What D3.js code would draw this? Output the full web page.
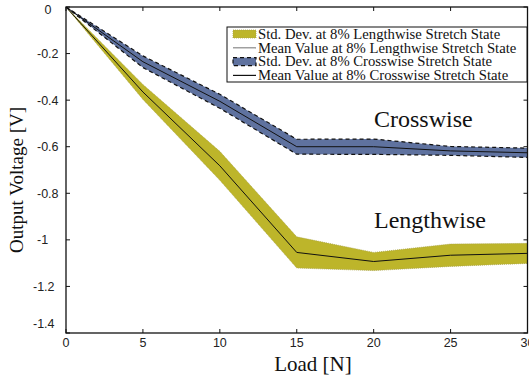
<!DOCTYPE html>
<html>
<head>
<meta charset="utf-8">
<script src="https://cdn.jsdelivr.net/npm/d3@7"></script>
<style>
  html, body { margin: 0; padding: 0; background: #fff; }
  svg { display: block; }
  .tick-label { font-family: "Liberation Sans Narrow", "Liberation Sans", Arial, sans-serif; font-size: 12.5px; fill: #222; }
  .serif { font-family: "Liberation Serif", "Times New Roman", serif; fill: #111; }
</style>
</head>
<body>
<svg id="chart" width="529" height="380"></svg>
<script>
// Load steps [N]
const loads = [0, 5, 10, 15, 20, 25, 30];

// Output voltage [V] at 8% lengthwise stretch
const lengthMean = [0, -0.365, -0.682, -1.054, -1.093, -1.066, -1.058];
const lengthStd  = [0, 0.032, 0.062, 0.067, 0.039, 0.048, 0.043];

// Output voltage [V] at 8% crosswise stretch
const crossMean = [0, -0.235, -0.405, -0.600, -0.600, -0.618, -0.626];
const crossStd  = [0, 0.025, 0.030, 0.032, 0.033, 0.019, 0.020];

const xTicks = [0, 5, 10, 15, 20, 25, 30];
const yTicks = [0, -0.2, -0.4, -0.6, -0.8, -1, -1.2, -1.4];
const yTickLabels = ["0", "-0.2", "-0.4", "-0.6", "-0.8", "-1", "-1.2", "-1.4"];

const legendLabels = [
  "Std. Dev. at 8% Lengthwise Stretch State",
  "Mean Value at 8% Lengthwise Stretch State",
  "Std. Dev. at 8% Crosswise Stretch State",
  "Mean Value at 8% Crosswise Stretch State"
];

const yellow = "#bdb52a";
const blue = "#5f729f";

const svg = d3.select("#chart");
const pLeft = 66, pRight = 527.5, pTop = 7, pBottom = 333;

const x = d3.scaleLinear().domain([0, 30]).range([pLeft, pRight]);
const y = d3.scaleLinear().domain([0, -1.4]).range([pTop, pBottom]);

const rowsL = loads.map((l, i) => ({ l, m: lengthMean[i], s: lengthStd[i] }));
const rowsC = loads.map((l, i) => ({ l, m: crossMean[i], s: crossStd[i] }));

const area = d3.area().x(d => x(d.l)).y0(d => y(d.m - d.s)).y1(d => y(d.m + d.s));
const upper = d3.line().x(d => x(d.l)).y(d => y(d.m + d.s));
const lower = d3.line().x(d => x(d.l)).y(d => y(d.m - d.s));
const mean = d3.line().x(d => x(d.l)).y(d => y(d.m));

svg.append("clipPath").attr("id", "clip")
  .append("rect").attr("x", pLeft).attr("y", pTop).attr("width", pRight - pLeft).attr("height", pBottom - pTop);
const g = svg.append("g").attr("clip-path", "url(#clip)");

// Lengthwise band (dotted outline)
g.append("path").datum(rowsL).attr("d", area).attr("fill", yellow);
[upper, lower].forEach(fn => g.append("path").datum(rowsL).attr("d", fn)
  .attr("fill", "none").attr("stroke", "#a9a34a").attr("stroke-width", 0.8).attr("stroke-dasharray", "1,1"));
g.append("path").datum(rowsL).attr("d", mean).attr("fill", "none").attr("stroke", "#111").attr("stroke-width", 1);

// Crosswise band (dashed outline)
g.append("path").datum(rowsC).attr("d", area).attr("fill", blue);
[upper, lower].forEach(fn => g.append("path").datum(rowsC).attr("d", fn)
  .attr("fill", "none").attr("stroke", "#111").attr("stroke-width", 1.2).attr("stroke-dasharray", "4,3"));
g.append("path").datum(rowsC).attr("d", mean).attr("fill", "none").attr("stroke", "#111").attr("stroke-width", 1);

// Axes box with inward ticks
const tickLen = 4;
const axisG = svg.append("g").attr("stroke", "#111").attr("fill", "none");
axisG.append("rect").attr("x", pLeft).attr("y", pTop).attr("width", pRight - pLeft).attr("height", pBottom - pTop)
  .attr("stroke-width", 1.3);
xTicks.forEach(t => {
  axisG.append("line").attr("x1", x(t)).attr("x2", x(t)).attr("y1", pBottom).attr("y2", pBottom - tickLen);
  axisG.append("line").attr("x1", x(t)).attr("x2", x(t)).attr("y1", pTop).attr("y2", pTop + tickLen);
});
yTicks.forEach(t => {
  axisG.append("line").attr("x1", pLeft).attr("x2", pLeft + tickLen).attr("y1", y(t)).attr("y2", y(t));
  axisG.append("line").attr("x1", pRight).attr("x2", pRight - tickLen).attr("y1", y(t)).attr("y2", y(t));
});

// Tick labels
svg.append("g").selectAll("text").data(xTicks).join("text")
  .attr("class", "tick-label").attr("text-anchor", "middle")
  .attr("x", d => x(d)).attr("y", pBottom + 14)
  .text(d => d);

svg.append("g").selectAll("text").data(yTicks).join("text")
  .attr("class", "tick-label")
  .attr("text-anchor", d => d === 0 ? "middle" : "start")
  .attr("x", d => d === 0 ? 48 : (d <= -1.2 ? 33 : 37))
  .attr("y", d => y(d) + (d === 0 ? 3 : (d === -1.4 ? -9 : 0)))
  .attr("dy", "0.35em")
  .text((d, i) => yTickLabels[i]);

// Axis titles
svg.append("text").attr("class", "serif").attr("font-size", 21)
  .attr("text-anchor", "middle").attr("x", 313).attr("y", 371).text("Load [N]");
svg.append("text").attr("class", "serif").attr("font-size", 19)
  .attr("text-anchor", "middle")
  .attr("transform", "translate(23,180) rotate(-90)").text("Output Voltage [V]");

// Curve annotations
svg.append("text").attr("class", "serif").attr("font-size", 24)
  .attr("x", 374).attr("y", 127).text("Crosswise");
svg.append("text").attr("class", "serif").attr("font-size", 24)
  .attr("x", 374).attr("y", 228).text("Lengthwise");

// Legend
const lg = svg.append("g");
lg.append("rect").attr("x", 227).attr("y", 27).attr("width", 300).attr("height", 55)
  .attr("fill", "#fff").attr("stroke", "#111").attr("stroke-width", 1);
const rowY = i => 34 + i * 13.8;
lg.append("rect").attr("x", 233).attr("y", rowY(0) - 4).attr("width", 23).attr("height", 8)
  .attr("fill", yellow).attr("stroke", "#a9a34a").attr("stroke-width", 0.8).attr("stroke-dasharray", "1,1");
lg.append("line").attr("x1", 233).attr("x2", 256).attr("y1", rowY(1)).attr("y2", rowY(1))
  .attr("stroke", "#888").attr("stroke-width", 1.2);
lg.append("rect").attr("x", 233).attr("y", rowY(2) - 4).attr("width", 23).attr("height", 8)
  .attr("fill", blue).attr("stroke", "#111").attr("stroke-width", 1.2).attr("stroke-dasharray", "4,3");
lg.append("line").attr("x1", 233).attr("x2", 256).attr("y1", rowY(3)).attr("y2", rowY(3))
  .attr("stroke", "#111").attr("stroke-width", 1.2);
lg.selectAll("text.leg").data(legendLabels).join("text")
  .attr("class", "serif leg").attr("font-size", 14.7)
  .attr("x", 258).attr("y", (d, i) => rowY(i)).attr("dy", "0.33em").text(d => d);
</script>
</body>
</html>
